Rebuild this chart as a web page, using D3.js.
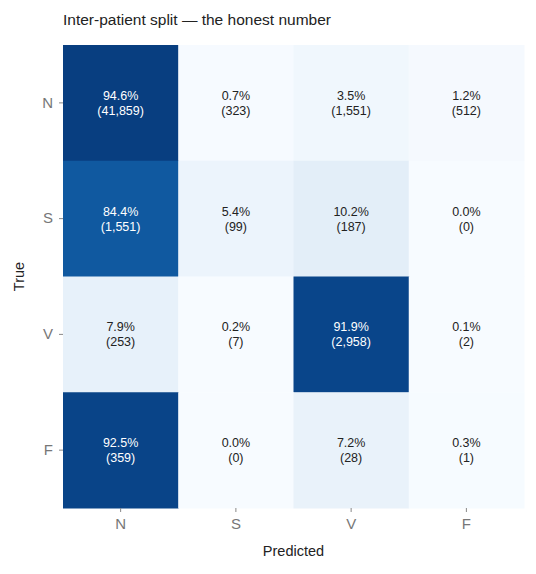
<!DOCTYPE html>
<html><head><meta charset="utf-8">
<script src="https://cdn.jsdelivr.net/npm/d3@7"></script>
<style>body{margin:0;background:#fff}text{font-family:"Liberation Sans",Arial,sans-serif}</style>
</head><body><svg id="c" width="536" height="574"></svg>
<script>
const classes = ["N","S","V","F"];
const pctN = [94.6,0.7,3.5,1.2];
const pctS = [84.4,5.4,10.2,0.0];
const pctV = [7.9,0.2,91.9,0.1];
const pctF = [92.5,0.0,7.2,0.3];
const cntN = [41859,323,1551,512];
const cntS = [1551,99,187,0];
const cntV = [253,7,2958,2];
const cntF = [359,0,28,1];
const pcts = [pctN,pctS,pctV,pctF], cnts = [cntN,cntS,cntV,cntF];

const svg = d3.select("#c");
const L=63,R=524,T=45,B=508;
const x = d3.scaleBand().domain(classes).range([L,R]);
const y = d3.scaleBand().domain(classes).range([T,B]);
const color = v => d3.interpolateBlues(v/100);
const cells=[];
classes.forEach((t,i)=>classes.forEach((p,j)=>cells.push({t,p,v:pcts[i][j],c:cnts[i][j]})));
const g=svg.append("g");
g.selectAll("rect").data(cells).join("rect")
 .attr("x",d=>x(d.p)).attr("y",d=>y(d.t)).attr("width",x.bandwidth()+0.5).attr("height",y.bandwidth()+0.5)
 .attr("fill",d=>color(d.v));
const fmt=d3.format(",");
g.selectAll("text.a").data(cells).join("text")
 .attr("x",d=>x(d.p)+x.bandwidth()/2).attr("y",d=>y(d.t)+y.bandwidth()/2-3)
 .attr("text-anchor","middle").attr("font-size",12.5)
 .attr("fill",d=>d.v>50?"#fff":"#222").text(d=>d.v.toFixed(1)+"%");
g.selectAll("text.b").data(cells).join("text")
 .attr("x",d=>x(d.p)+x.bandwidth()/2).attr("y",d=>y(d.t)+y.bandwidth()/2+12)
 .attr("text-anchor","middle").attr("font-size",12.5)
 .attr("fill",d=>d.v>50?"#fff":"#222").text(d=>"("+fmt(d.c)+")");
const xa=svg.append("g").attr("transform",`translate(0,${B})`).call(d3.axisBottom(x).tickSize(4).tickPadding(6));
const ya=svg.append("g").attr("transform",`translate(${L},0)`).call(d3.axisLeft(y).tickSize(4).tickPadding(6));
[xa,ya].forEach(a=>{a.select(".domain").remove();a.selectAll("line").attr("stroke","#888");
 a.selectAll("text").attr("font-size",15).attr("fill","#777").attr("font-family","Liberation Sans,Arial,sans-serif");});
svg.append("text").attr("x",L).attr("y",25).attr("font-size",15.5).attr("fill","#222").text("Inter-patient split — the honest number");
svg.append("text").attr("x",(L+R)/2).attr("y",556).attr("text-anchor","middle").attr("font-size",14.5).attr("fill","#222").text("Predicted");
svg.append("text").attr("transform",`translate(24,${(T+B)/2}) rotate(-90)`).attr("text-anchor","middle").attr("font-size",14.5).attr("fill","#222").text("True");
</script></body></html>
